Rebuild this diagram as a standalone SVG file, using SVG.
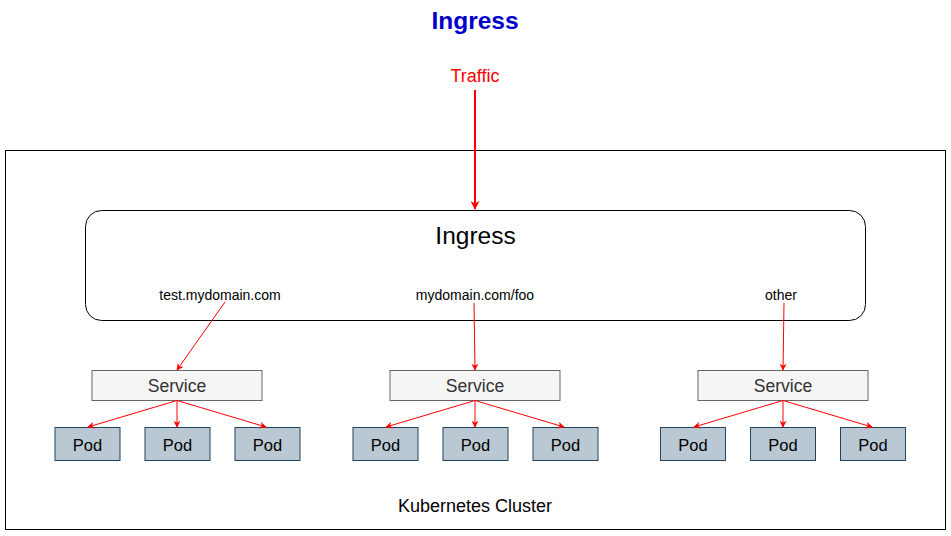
<svg xmlns="http://www.w3.org/2000/svg" width="951" height="536" viewBox="0 0 951 536">
<style>
text{font-family:"Liberation Sans",Arial,Helvetica,sans-serif;text-anchor:middle}
.svc{fill:#f5f5f5;stroke:#666666;stroke-width:1}
.svct{font-size:17.6px;fill:#333333}
.pod{fill:#bac8d3;stroke:#23445d;stroke-width:1}
.podt{font-size:16.5px;fill:#000}
.lbl{font-size:14px;fill:#000}
.c{stroke:#ff0000;stroke-width:1;fill:none;marker-end:url(#ah)}
</style>
<defs>
<marker id="ah" viewBox="0 0 10 10" refX="9" refY="5" markerWidth="7" markerHeight="7" orient="auto" markerUnits="userSpaceOnUse">
<path d="M0,0 L10,5 L0,10 L3,5 Z" fill="#ff0000"/>
</marker>
<marker id="ah2" viewBox="0 0 10 10" refX="9" refY="5" markerWidth="9" markerHeight="9" orient="auto" markerUnits="userSpaceOnUse">
<path d="M0,0 L10,5 L0,10 L3,5 Z" fill="#ff0000"/>
</marker>
</defs>
<rect width="951" height="536" fill="#ffffff"/>
<text x="475" y="29" style="font-size:24.5px;font-weight:bold;fill:#0000cc">Ingress</text>
<g id="cluster">
<rect x="5.5" y="150.5" width="940" height="379" fill="none" stroke="#000" stroke-width="1"/>
<text x="475" y="512" style="font-size:18px">Kubernetes Cluster</text>
</g>
<g id="traffic"><text x="475" y="82" style="font-size:18px;fill:#ff0000">Traffic</text></g>
<g id="ingress">
<rect x="85.5" y="210.5" width="780" height="110" rx="16" ry="16" fill="#fff" stroke="#000" stroke-width="1"/>
<text x="475.5" y="243.5" style="font-size:24.5px">Ingress</text>
<text x="220" y="299.5" class="lbl">test.mydomain.com</text>
<text x="475" y="299.5" class="lbl">mydomain.com/foo</text>
<text x="781" y="299.5" class="lbl">other</text>
</g>
<g id="svc1"><rect class="svc" x="92" y="370.5" width="170" height="30"/><text class="svct" x="177" y="392">Service</text></g>
<g id="svc2"><rect class="svc" x="390" y="370.5" width="170" height="30"/><text class="svct" x="475" y="392">Service</text></g>
<g id="svc3"><rect class="svc" x="698" y="370.5" width="170" height="30"/><text class="svct" x="783" y="392">Service</text></g>
<g id="pod1"><rect class="pod" x="55" y="427.5" width="65" height="33"/><text class="podt" x="87.5" y="451">Pod</text></g>
<g id="pod2"><rect class="pod" x="145" y="427.5" width="65" height="33"/><text class="podt" x="177.5" y="451">Pod</text></g>
<g id="pod3"><rect class="pod" x="235" y="427.5" width="65" height="33"/><text class="podt" x="267.5" y="451">Pod</text></g>
<g id="pod4"><rect class="pod" x="353" y="427.5" width="65" height="33"/><text class="podt" x="385.5" y="451">Pod</text></g>
<g id="pod5"><rect class="pod" x="443" y="427.5" width="65" height="33"/><text class="podt" x="475.5" y="451">Pod</text></g>
<g id="pod6"><rect class="pod" x="533" y="427.5" width="65" height="33"/><text class="podt" x="565.5" y="451">Pod</text></g>
<g id="pod7"><rect class="pod" x="660.5" y="427.5" width="65" height="33"/><text class="podt" x="693" y="451">Pod</text></g>
<g id="pod8"><rect class="pod" x="750.5" y="427.5" width="65" height="33"/><text class="podt" x="783" y="451">Pod</text></g>
<g id="pod9"><rect class="pod" x="840.5" y="427.5" width="65" height="33"/><text class="podt" x="873" y="451">Pod</text></g>
<g id="connectors">
<line x1="475" y1="90" x2="475" y2="209" stroke="#ff0000" stroke-width="2" marker-end="url(#ah2)"/>
<line class="c" x1="225" y1="302" x2="177" y2="370"/>
<line class="c" x1="474" y1="303" x2="475" y2="370"/>
<line class="c" x1="784" y1="303" x2="783" y2="370"/>
<line class="c" x1="177" y1="400.5" x2="88" y2="427"/>
<line class="c" x1="177" y1="400.5" x2="177" y2="427"/>
<line class="c" x1="177" y1="400.5" x2="266" y2="427"/>
<line class="c" x1="475" y1="400.5" x2="386" y2="427"/>
<line class="c" x1="475" y1="400.5" x2="475" y2="427"/>
<line class="c" x1="475" y1="400.5" x2="564" y2="427"/>
<line class="c" x1="783" y1="400.5" x2="694" y2="427"/>
<line class="c" x1="783" y1="400.5" x2="783" y2="427"/>
<line class="c" x1="783" y1="400.5" x2="872" y2="427"/>
</g>
</svg>
